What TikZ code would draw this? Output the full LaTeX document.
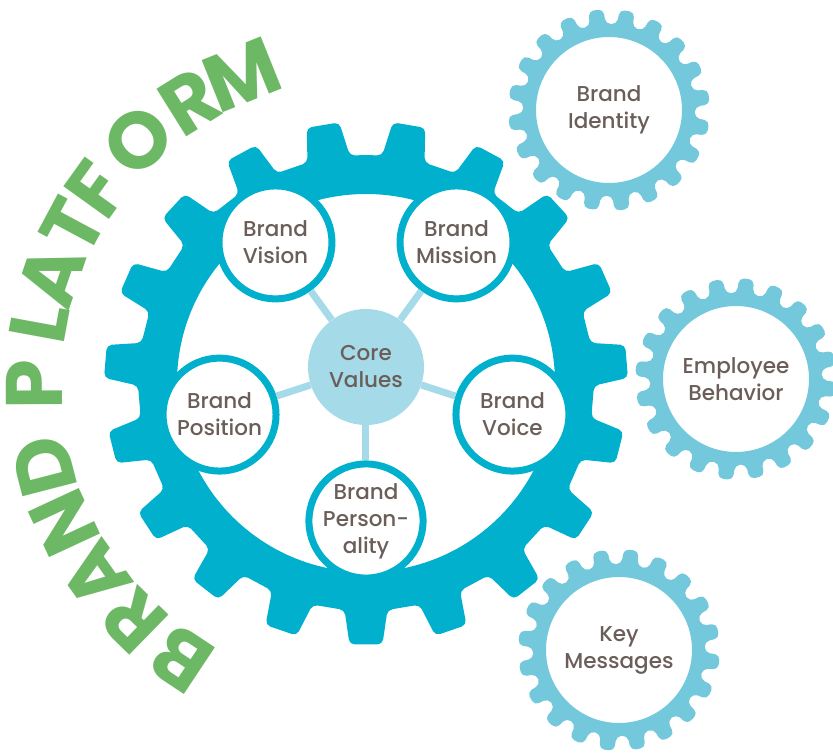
\documentclass[tikz,border=0pt]{standalone}
\usepackage{fontspec}
\setmainfont{Poppins}
\newfontfamily\labelfont{Poppins Medium}
\usepackage{tikz}
\definecolor{cogblue}{HTML}{00B0CC}
\definecolor{cogpale}{HTML}{74C8DC}
\definecolor{corefill}{HTML}{A5DAE8}
\definecolor{labelgray}{HTML}{6B5E59}
\definecolor{titlegreen}{HTML}{6DB865}
% #1 style, #2 teeth, #3 hole r, #4 root r, #5 tip r, #6 root half-angle, #7 tip half-angle
\newcommand{\cog}[7]{%
  \pgfmathsetmacro{\pitch}{360/#2}
  \pgfmathtruncatemacro{\lastt}{#2-1}
  \fill[#1, even odd rule, rounded corners=5pt] (90:#4)
    \foreach \i in {0,...,\lastt}{
      -- ({90+(\i+.5)*\pitch-#6}:#4) -- ({90+(\i+.5)*\pitch-#7}:#5)
      -- ({90+(\i+.5)*\pitch+#7}:#5) -- ({90+(\i+.5)*\pitch+#6}:#4)}
    -- cycle (0,0) circle (#3);}

\begin{document}
\begin{tikzpicture}[x=1pt, y=1pt,
    cogtext/.style = {text=labelgray, align=center, font=\labelfont\fontsize{21.5}{27}\selectfont},
    satellite/.style = {cogtext, circle, draw=cogblue, line width=7pt, fill=white,
                        inner sep=0pt, minimum size=113pt},
    corebubble/.style = {cogtext, circle, fill=corefill, inner sep=0pt, minimum size=116pt},
    spoke/.style = {draw=corefill, line width=7pt},
    titleletter/.style = {text=titlegreen, anchor=base, inner sep=0pt,
                          font=\fontsize{80}{80}\selectfont\bfseries}]
  \useasboundingbox (-366,-370) rectangle (467,383);

  % main gear
  \cog{cogblue}{19}{189}{228}{262}{5.4}{3.6}

  % small gears on the right
  \begin{scope}[shift={(243,273)}, rotate=-1.5]
    \cog{cogpale}{20}{73}{86}{101}{5.4}{4.2}
  \end{scope}
  \begin{scope}[shift={(370,4)}, rotate=3]
    \cog{cogpale}{20}{73}{86}{101}{5.4}{4.2}
  \end{scope}
  \begin{scope}[shift={(253,-267)}, rotate=2]
    \cog{cogpale}{20}{73}{86}{101}{5.4}{4.2}
  \end{scope}

  \node[cogtext] (identity) at (243,273) {Brand\\Identity};
  \node[cogtext] (employee) at (370,4) {Employee\\Behavior};
  \node[cogtext] (messages) at (253,-267) {Key\\Messages};

  % core and its five satellites
  \node[corebubble] (core) at (0,16) {Core\\Values};
  \node[satellite] (vision) at ([shift={(126:154)}]core.center) {Brand\\Vision};
  \node[satellite] (mission) at ([shift={(54:154)}]core.center) {Brand\\Mission};
  \node[satellite] (position) at ([shift={(198:154)}]core.center) {Brand\\Position};
  \node[satellite] (voice) at ([shift={(-18:154)}]core.center) {Brand\\Voice};
  \node[satellite] (personality) at ([shift={(270:154)}]core.center) {Brand\\Person-\\ality};
  \foreach \s in {vision,mission,position,voice,personality}
    \draw[spoke] (core) -- (\s);

  % curved title
  \foreach \letter/\ang [count=\k] in {B/236.4, R/225.7, A/215.5, N/204.9, D/194.5,
      P/180.2, L/169.6, A/161.2, T/151.8, F/144.3, O/133.2, R/122, M/111.9}
    \node[titleletter, rotate=\ang-90] (title\k) at (\ang:304) {\letter};
\end{tikzpicture}
\end{document}
